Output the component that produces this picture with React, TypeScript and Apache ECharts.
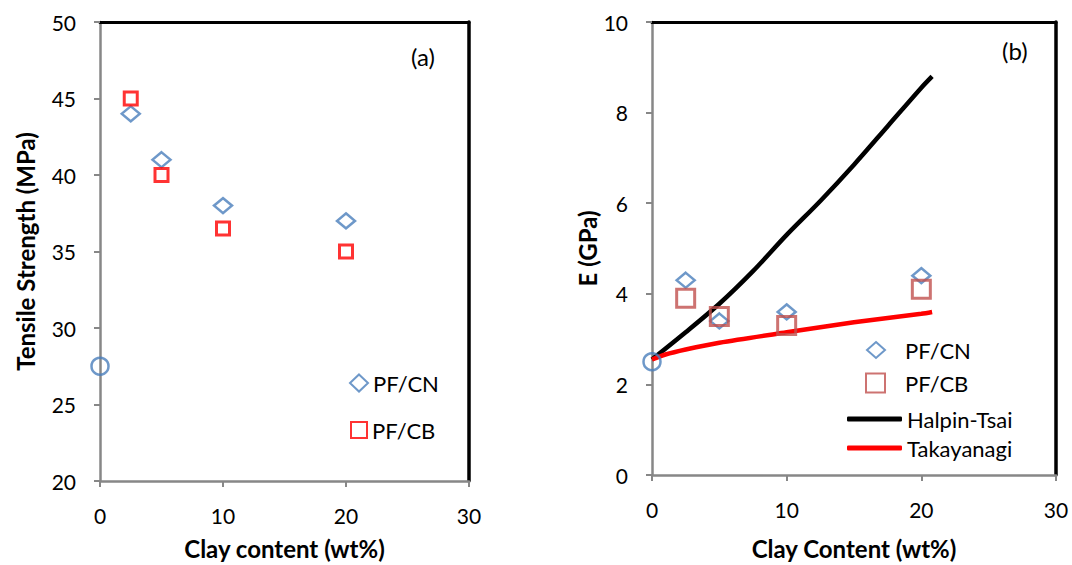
import React, { useEffect, useRef } from "react";
import * as echarts from "echarts";

// Panel (a): tensile strength (MPa) vs clay content (wt%)
const aCNx = [2.5, 5, 10, 20];
const aCNy = [44, 41, 38, 37];
const aCBx = [2.5, 5, 10, 20];
const aCBy = [45, 40, 36.5, 35];
const aNeat = [[0, 27.5]];

// Panel (b): E (GPa) vs clay content (wt%)
const bCNx = [2.5, 5, 10, 20];
const bCNy = [4.3, 3.4, 3.6, 4.4];
const bCBx = [2.5, 5, 10, 20];
const bCBy = [3.9, 3.5, 3.3, 4.1];
const bNeat = [[0, 2.5]];
const halpinX = [0, 2.5, 5, 7.5, 10, 12.5, 15, 17.5, 20, 20.8];
const halpinY = [2.55, 3.15, 3.78, 4.5, 5.3, 6.05, 6.85, 7.7, 8.55, 8.8];
const takaX = [0, 1, 2.5, 5, 10, 15, 20, 20.8];
const takaY = [2.55, 2.66, 2.77, 2.92, 3.15, 3.37, 3.56, 3.6];

const zip = (xs: number[], ys: number[]) => xs.map((x, i) => [x, ys[i]]);

const FONT = "Lato";
const BLUE = "#4a7ebb";
const GRAY = "#878787";

export default function App() {
  const ref = useRef<HTMLDivElement>(null);
  useEffect(() => {
    if (!ref.current) return;
    const chart = echarts.init(ref.current, null, { renderer: "svg" });
    const axisLabel = { color: "#000", fontSize: 21, fontFamily: FONT };
    const nameStyle = { color: "#000", fontSize: 24, fontWeight: "bold" as const, fontFamily: FONT };
    const mainX = (gi: number, name: string, gap: number) => ({
      type: "value", gridIndex: gi, min: 0, max: 30, interval: 10,
      name, nameLocation: "middle", nameGap: gap, nameTextStyle: nameStyle,
      axisLine: { show: true, onZero: false, lineStyle: { color: GRAY, width: 2.5 } },
      axisTick: { show: true, inside: false, length: 6, lineStyle: { color: GRAY, width: 2 } },
      axisLabel: { ...axisLabel, margin: 24 },
      splitLine: { show: false },
    });
    const topX = (gi: number) => ({
      type: "value", gridIndex: gi, min: 0, max: 30, position: "top",
      axisLine: { show: true, onZero: false, lineStyle: { color: "#000", width: 3 } },
      axisTick: { show: false }, axisLabel: { show: false }, splitLine: { show: false },
    });
    const rightY = (gi: number, min: number, max: number) => ({
      type: "value", gridIndex: gi, min, max, position: "right",
      axisLine: { show: true, onZero: false, lineStyle: { color: "#000", width: 3.5 } },
      axisTick: { show: false }, axisLabel: { show: false }, splitLine: { show: false },
    });
    const mainY = (gi: number, min: number, max: number, interval: number, name: string, gap: number) => ({
      type: "value", gridIndex: gi, min, max, interval,
      name, nameLocation: "middle", nameGap: gap, nameTextStyle: nameStyle,
      axisLine: { show: true, onZero: false, lineStyle: { color: GRAY, width: 2.5 } },
      axisTick: { show: true, inside: false, length: 6, lineStyle: { color: GRAY, width: 2 } },
      axisLabel: { ...axisLabel, margin: 24 },
      splitLine: { show: false },
    });
    const legText = { fontSize: 22, fontFamily: FONT, color: "#000", lineHeight: 24 };
    const leg = (name: string, left: number, top: number, w: number, h: number, pad: number, icon?: string) => ({
      left, top, padding: 0, itemWidth: w, itemHeight: h, orient: "vertical",
      textStyle: { ...legText, padding: [0, 0, 0, pad] },
      data: [icon ? { name, icon } : name],
    });

    chart.setOption({
      animation: false,
      backgroundColor: "#fff",
      textStyle: { fontFamily: FONT },
      grid: [
        { left: 100, top: 22, width: 369, height: 460, containLabel: false },
        { left: 652, top: 22, width: 404, height: 455, containLabel: false },
      ],
      xAxis: [
        mainX(0, "Clay content (wt%)", 55), topX(0),
        mainX(1, "Clay Content (wt%)", 61), topX(1),
      ],
      yAxis: [
        mainY(0, 20, 50, 5, "Tensile Strength (MPa)", 63), rightY(0, 20, 50),
        mainY(1, 0, 10, 2, "E (GPa)", 49), rightY(1, 0, 10),
      ],
      legend: [
        leg("PF/CN", 349, 371, 18, 17, 0, "diamond"),
        leg("PF/CB", 350, 418, 16, 16, 0, "rect"),
        leg("PF/CN ", 866, 338, 18, 16, 15, "diamond"),
        leg("PF/CB ", 865, 371, 19, 19, 15, "rect"),
        leg("Halpin-Tsai", 847, 407, 55, 5, 0, "roundRect"),
        leg("Takayanagi", 847, 436, 55, 5, 0, "roundRect"),
      ],
      series: [
        {
          name: "PF/CN", type: "scatter", xAxisIndex: 0, yAxisIndex: 0,
          data: zip(aCNx, aCNy), symbol: "diamond", symbolSize: [18, 15],
          itemStyle: { color: "transparent", borderColor: BLUE, borderWidth: 2.5 }, z: 3,
        },
        {
          name: "PF/CB", type: "scatter", xAxisIndex: 0, yAxisIndex: 0,
          data: zip(aCBx, aCBy), symbol: "rect", symbolSize: 13,
          itemStyle: { color: "transparent", borderColor: "#ff0000", borderWidth: 3 }, z: 3,
        },
        {
          name: "neat-a", type: "scatter", xAxisIndex: 0, yAxisIndex: 0,
          data: aNeat, symbol: "circle", symbolSize: 17,
          itemStyle: { color: "transparent", borderColor: BLUE, borderWidth: 2.5 }, z: 4,
        },
        {
          name: "Halpin-Tsai", type: "line", xAxisIndex: 2, yAxisIndex: 2,
          data: zip(halpinX, halpinY), showSymbol: false, symbol: "none", smooth: 0.3,
          lineStyle: { color: "#000", width: 4.5 }, itemStyle: { color: "#000" }, z: 2,
        },
        {
          name: "Takayanagi", type: "line", xAxisIndex: 2, yAxisIndex: 2,
          data: zip(takaX, takaY), showSymbol: false, symbol: "none", smooth: 0.3,
          lineStyle: { color: "#ff0000", width: 4.5 }, itemStyle: { color: "#ff0000" }, z: 2,
        },
        {
          name: "PF/CN ", type: "scatter", xAxisIndex: 2, yAxisIndex: 2,
          data: zip(bCNx, bCNy), symbol: "diamond", symbolSize: [18, 15],
          itemStyle: { color: "transparent", borderColor: BLUE, borderWidth: 2.5 }, z: 3,
        },
        {
          name: "PF/CB ", type: "scatter", xAxisIndex: 2, yAxisIndex: 2,
          data: zip(bCBx, bCBy), symbol: "rect", symbolSize: 18,
          itemStyle: { color: "transparent", borderColor: "#c0504d", borderWidth: 3 }, z: 3,
        },
        {
          name: "neat-b", type: "scatter", xAxisIndex: 2, yAxisIndex: 2,
          data: bNeat, symbol: "circle", symbolSize: 17,
          itemStyle: { color: "transparent", borderColor: BLUE, borderWidth: 2.5 }, z: 4,
        },
      ],
      graphic: [
        { type: "text", left: 411, top: 44, style: { text: "(a)", fontSize: 24, fontFamily: FONT, fill: "#000" } },
        { type: "text", left: 1002, top: 38, style: { text: "(b)", fontSize: 24, fontFamily: FONT, fill: "#000" } },
      ],
    });
    return () => chart.dispose();
  }, []);
  return <div ref={ref} style={{ width: 1072, height: 565, position: "absolute", left: 0, top: 0 }} />;
}
